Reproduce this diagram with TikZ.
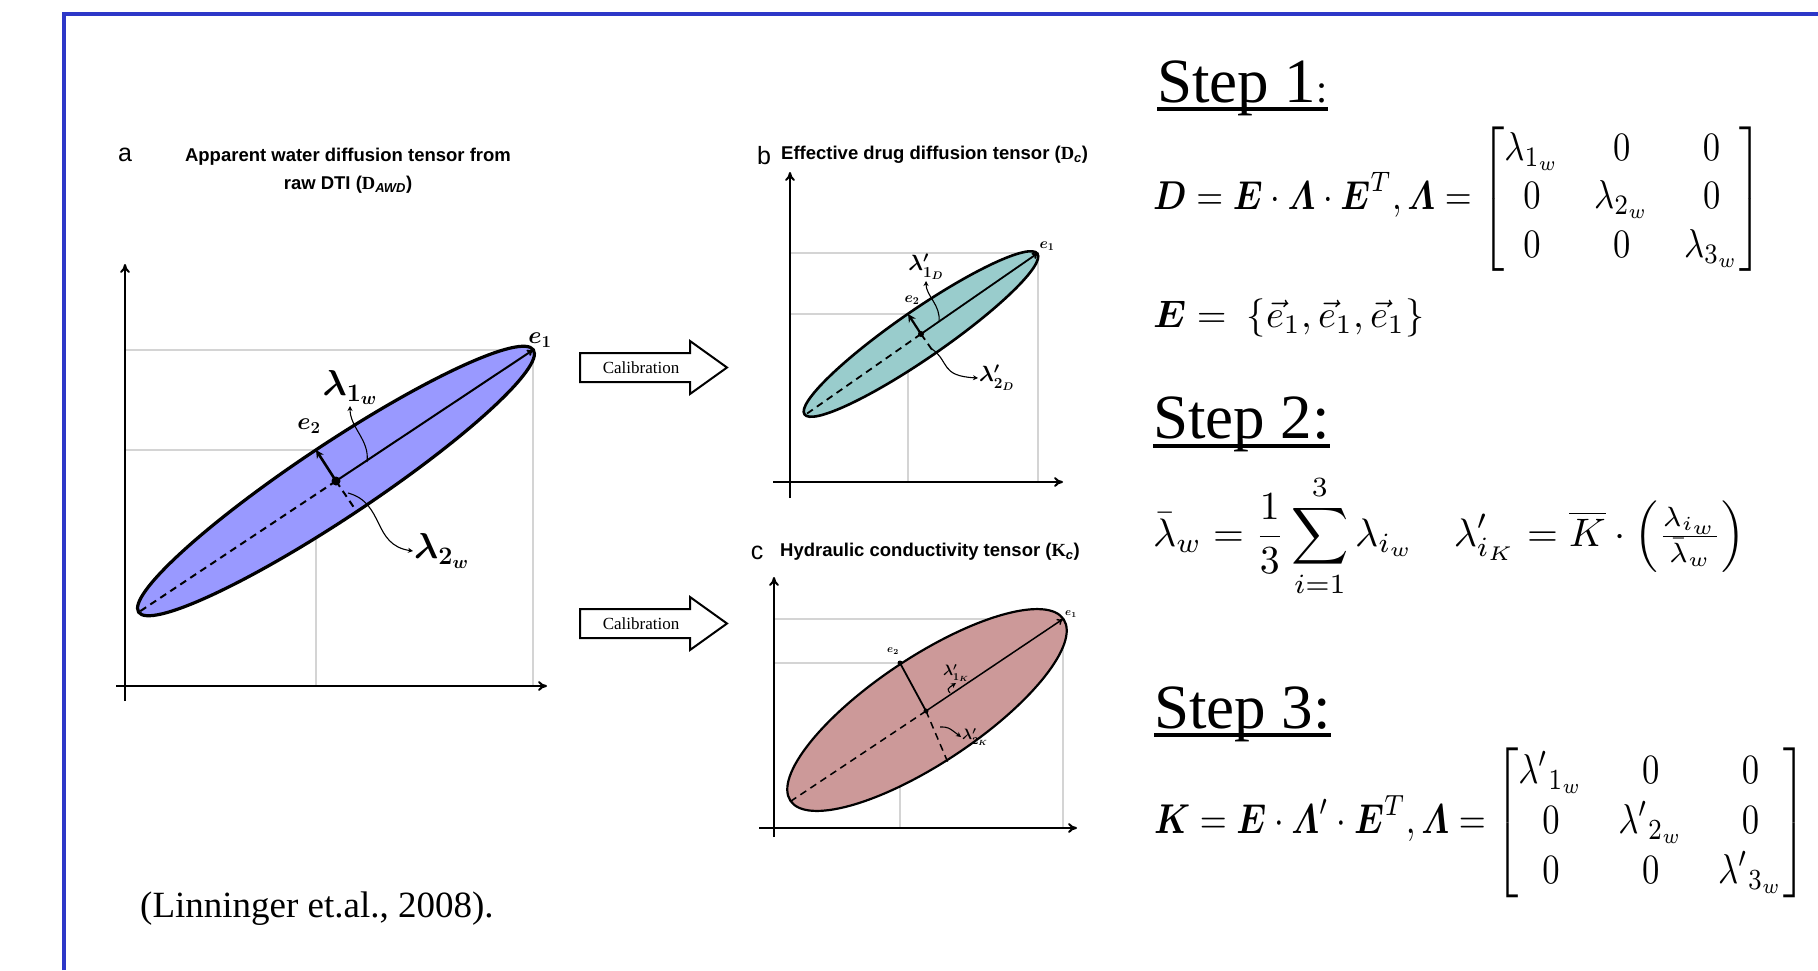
\RequirePackage{fix-cm}
\documentclass[tikz,border=0pt]{standalone}
\usepackage{amsmath}
\usepackage[no-math]{fontspec}
\setmainfont{Liberation Serif}
\setsansfont{Liberation Sans}
\usepackage{graphicx}
\usetikzlibrary{arrows.meta}
\definecolor{frameblue}{RGB}{45,55,200}
\definecolor{ellblue}{RGB}{153,153,255}
\definecolor{ellteal}{RGB}{153,204,204}
\definecolor{ellrose}{RGB}{204,153,153}

\begin{document}
\begin{tikzpicture}[
  x=1pt, y=-1pt,
  frameline/.style={draw=frameblue, line width=4.5pt},
  axis/.style={line width=2pt, -{To[length=9pt, width=10pt]}},
  gridline/.style={draw=black!17, line width=1.3pt},
  majax/.style={line width=#1, -{To[length=6pt, width=7pt]}},
  minax/.style={line width=#1, -{Stealth[length=8pt, width=8pt]}},
  dashax/.style={line width=#1, dash pattern=on 7pt off 5pt},
  angarrow/.style={line width=1.1pt, -{Stealth[length=5pt, width=5pt]}},
  calib/.style={draw, fill=white, line width=2pt},
  calf/.style={font=\fontsize{17}{19}\selectfont},
  ttl/.style={font=\sffamily\bfseries\fontsize{18.5}{28}\selectfont, inner sep=0pt},
  letr/.style={font=\sffamily\fontsize{25}{27}\selectfont, inner sep=0pt},
  stepf/.style={font=\fontsize{63}{70}\selectfont, inner sep=0pt, anchor=base west},
  uline/.style={line width=3.5pt},
  eqn/.style={inner sep=0pt, anchor=west}
]
  \useasboundingbox (0,0) rectangle (1818,970);

  %--- frame ---
  \draw[frameline] (64,970) -- (64,14) -- (1818,14);

  %--- Panel a ---
  \node[letr] (la) at (125,155) {a};
  \node[ttl, align=center] (tita) at (348,171)
    {Apparent water diffusion tensor from\\raw DTI ({\rmfamily D}\textsubscript{\textit{AWD}})};
  \coordinate (oa)  at (125,686);
  \coordinate (ca)  at (336,481);
  \coordinate (e1a) at (533,350);
  \coordinate (ta)  at (139,612);
  \coordinate (e2a) at (316,450);
  \coordinate (m2a) at (357,512);
  \draw[gridline] (oa |- e1a) -| (oa -| e1a);
  \draw[gridline] (oa |- e2a) -| (oa -| e2a);
  \draw[axis] (125,701) -- (125,264);
  \draw[axis] (116,686) -- (547,686);
  \filldraw[fill=ellblue, line width=3.2pt, rotate around={33.6:(ca)}]
    (ca) ellipse [x radius=237pt, y radius=37pt];
  \draw[majax=2pt] (ca) -- (e1a);
  \draw[dashax=2pt] (ca) -- (ta);
  \draw[minax=2.6pt] (ca) -- (e2a);
  \draw[dashax=2pt] (ca) -- (m2a);
  \fill (ca) circle (4.5pt);
  \node[font=\fontsize{36}{38}\selectfont, inner sep=1pt, anchor=south] (l1a) at (350,406) {$\boldsymbol{\lambda_{1_w}}$};
  \node[font=\fontsize{36}{38}\selectfont, inner sep=1pt, anchor=west] (l2a) at (413,551) {$\boldsymbol{\lambda_{2_w}}$};
  \node[font=\fontsize{24}{26}\selectfont, inner sep=0pt] (ee1a) at (540,340) {$\boldsymbol{e}_{\mathbf{1}}$};
  \node[font=\fontsize{24}{26}\selectfont, inner sep=0pt] (ee2a) at (309,426) {$\boldsymbol{e}_{\mathbf{2}}$};
  \coordinate (p1a) at (367,462);
  \coordinate (p2a) at (348,493);
  \draw[angarrow] (p1a) .. controls (370,440) and (350,428) .. (l1a.south);
  \draw[angarrow] (p2a) .. controls (385,503) and (372,545) .. (l2a.west);

  %--- Calibration arrows ---
  \draw[calib] (580,353) -- (690,353) -- (690,341) -- (727,367.5) -- (690,394) -- (690,382) -- (580,382) -- cycle;
  \node[calf] (cal1) at (641,368) {Calibration};
  \draw[calib] (580,609) -- (690,609) -- (690,597) -- (727,623.5) -- (690,650) -- (690,638) -- (580,638) -- cycle;
  \node[calf] (cal2) at (641,624) {Calibration};

  %--- Panel b ---
  \node[letr] (lb) at (764,156) {b};
  \node[ttl, anchor=west] (titb) at (781,155)
    {Effective drug diffusion tensor ({\rmfamily D}\textsubscript{\textit{c}})};
  \coordinate (ob)  at (790,482);
  \coordinate (cb)  at (921,334);
  \coordinate (e1b) at (1038,253);
  \coordinate (tb)  at (805,415);
  \coordinate (e2b) at (908,314);
  \coordinate (m2b) at (935,354);
  \draw[gridline] (ob |- e1b) -| (ob -| e1b);
  \draw[gridline] (ob |- e2b) -| (ob -| e2b);
  \draw[axis] (790,498) -- (790,172);
  \draw[axis] (773,482) -- (1063,482);
  \filldraw[fill=ellteal, line width=2.6pt, rotate around={34.6:(cb)}]
    (cb) ellipse [x radius=141.5pt, y radius=24pt];
  \draw[majax=1.8pt] (cb) -- (e1b);
  \draw[dashax=1.8pt] (cb) -- (tb);
  \draw[minax=2.2pt] (cb) -- (e2b);
  \draw[dashax=1.8pt] (cb) -- (m2b);
  \fill (cb) circle (3pt);
  \node[font=\fontsize{22}{24}\selectfont, inner sep=1pt, anchor=south] (l1b) at (926,281) {$\boldsymbol{\lambda'_{1_D}}$};
  \node[font=\fontsize{22}{24}\selectfont, inner sep=1pt, anchor=west] (l2b) at (978,378) {$\boldsymbol{\lambda'_{2_D}}$};
  \node[font=\fontsize{15}{17}\selectfont, inner sep=0pt] (ee1b) at (1047,246) {$\boldsymbol{e}_{\mathbf{1}}$};
  \node[font=\fontsize{15}{17}\selectfont, inner sep=0pt] (ee2b) at (912,300) {$\boldsymbol{e}_{\mathbf{2}}$};
  \coordinate (p1b) at (939,322);
  \coordinate (p2b) at (932,349);
  \draw[angarrow] (p1b) .. controls (941,305) and (926,296) .. (l1b.south);
  \draw[angarrow] (p2b) .. controls (950,362) and (940,376) .. (l2b.west);

  %--- Panel c ---
  \node[letr] (lc) at (757,553) {c};
  \node[ttl, anchor=west] (titc) at (780,552)
    {Hydraulic conductivity tensor ({\rmfamily K}\textsubscript{\textit{c}})};
  \coordinate (oc)  at (774,828);
  \coordinate (cc)  at (926,711);
  \coordinate (e1c) at (1063,619);
  \coordinate (tc)  at (791,801);
  \coordinate (e2c) at (900,663);
  \coordinate (m2c) at (949,765);
  \draw[gridline] (oc |- e1c) -| (oc -| e1c);
  \draw[gridline] (oc |- e2c) -| (oc -| e2c);
  \draw[axis] (774,837) -- (774,577);
  \draw[axis] (759,828) -- (1077,828);
  \filldraw[fill=ellrose, line width=2.2pt, rotate around={33.6:(927,710)}]
    (927,710) ellipse [x radius=164pt, y radius=53pt];
  \draw[majax=1.5pt] (cc) -- (e1c);
  \draw[dashax=1.5pt] (cc) -- (tc);
  \draw[line width=1.8pt] (cc) -- (e2c);
  \draw[dashax=1.5pt] (cc) -- (m2c);
  \fill (cc) circle (2.5pt);
  \fill (e2c) circle (2.5pt);
  \node[font=\fontsize{15}{17}\selectfont, inner sep=1pt, anchor=south] (l1c) at (956,683) {$\boldsymbol{\lambda'_{1_K}}$};
  \node[font=\fontsize{15}{17}\selectfont, inner sep=1pt, anchor=west] (l2c) at (961,737) {$\boldsymbol{\lambda'_{2_K}}$};
  \node[font=\fontsize{11}{13}\selectfont, inner sep=0pt] (ee1c) at (1071,614) {$\boldsymbol{e}_{\mathbf{1}}$};
  \node[font=\fontsize{11}{13}\selectfont, inner sep=0pt] (ee2c) at (893,651) {$\boldsymbol{e}_{\mathbf{2}}$};
  \coordinate (p1c) at (950,693);
  \coordinate (p2c) at (940,727);
  \draw[angarrow] (p1c) .. controls (947,689) .. (l1c.south);
  \draw[angarrow] (p2c) .. controls (948,727) .. (l2c.west);

  %--- Steps ---
  \node[stepf] (st1) at (1157,102) {Step 1{\fontsize{40}{40}\selectfont :}};
  \draw[uline] ([yshift=-7pt]st1.base west) -- ([yshift=-7pt]st1.base east);
  \node[eqn] (eq1) at (1153,199) {\resizebox*{609pt}{145pt}{$\displaystyle
    \boldsymbol{D} = \boldsymbol{E}\cdot\boldsymbol{\varLambda}\cdot\boldsymbol{E}^{T}, \boldsymbol{\varLambda} =
    \begin{bmatrix} \lambda_{1_w} & 0 & 0\\ 0 & \lambda_{2_w} & 0\\ 0 & 0 & \lambda_{3_w} \end{bmatrix}$}};
  \node[eqn] (eqe) at (1153,318) {\resizebox{271pt}{!}{$\boldsymbol{E} =\ \{\vec{e}_1, \vec{e}_1, \vec{e}_1\}$}};

  \node[stepf] (st2) at (1153,438) {Step 2:};
  \draw[uline] ([yshift=-8pt]st2.base west) -- ([yshift=-8pt]st2.base east);
  \node[eqn] (eq2) at (1153,536) {\resizebox{592pt}{!}{$\displaystyle
    \bar{\lambda}_w = \frac{1}{3}\sum_{i=1}^{3}\lambda_{i_w} \quad
    \lambda'_{i_K} = \overline{K}\cdot\left(\tfrac{\lambda_{i_w}}{\bar{\lambda}_w}\right)$}};

  \node[stepf] (st3) at (1154,728) {Step 3:};
  \draw[uline] ([yshift=-7pt]st3.base west) -- ([yshift=-7pt]st3.base east);
  \node[eqn] (eq3) at (1154,823) {\resizebox*{652pt}{150pt}{$\displaystyle
    \boldsymbol{K} = \boldsymbol{E}\cdot\boldsymbol{\varLambda}'\cdot\boldsymbol{E}^{T}, \boldsymbol{\varLambda} =
    \begin{bmatrix} {\lambda'}_{1_w} & 0 & 0\\ 0 & {\lambda'}_{2_w} & 0\\ 0 & 0 & {\lambda'}_{3_w} \end{bmatrix}$}};

  %--- citation ---
  \node[font=\fontsize{37}{40}\selectfont, inner sep=0pt, anchor=base west] (cite) at (140,917) {(Linninger et.al., 2008).};
\end{tikzpicture}
\end{document}
